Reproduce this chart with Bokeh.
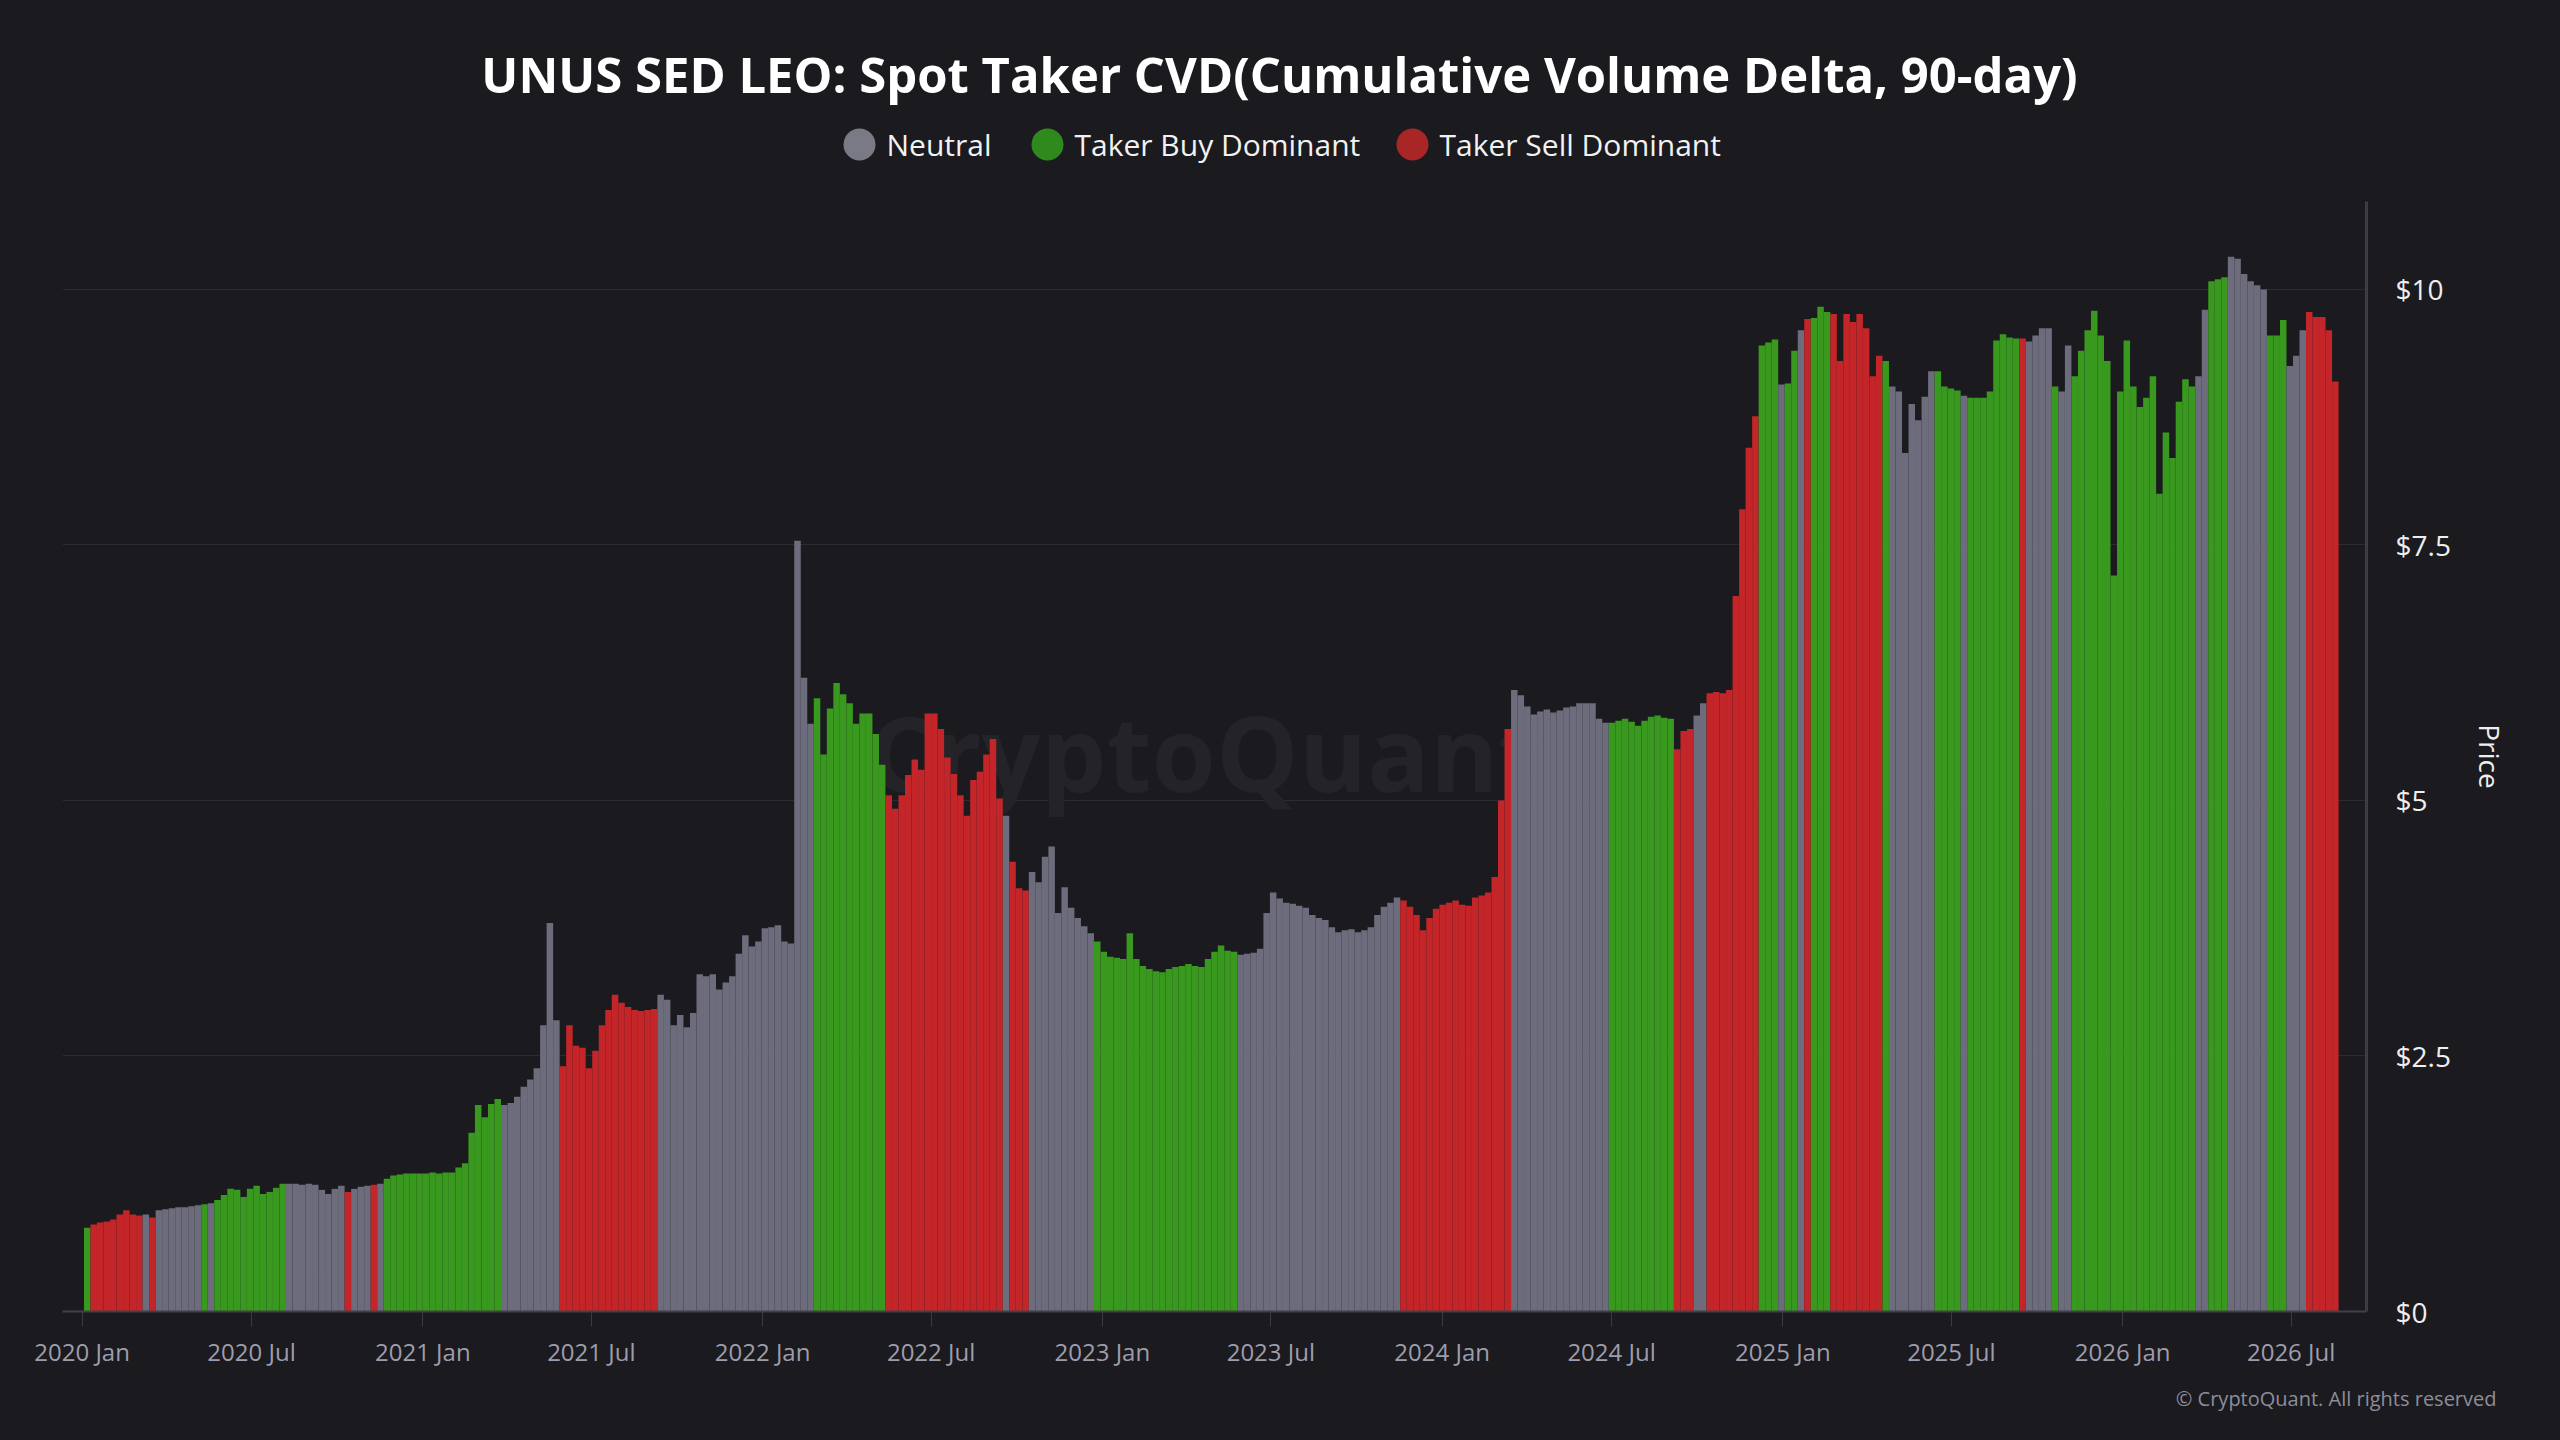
import bisect
import pandas as pd
from bokeh.plotting import figure
from bokeh.layouts import column
from bokeh.models import Range1d, FixedTicker, ColumnDataSource, Title
from bokeh.core.properties import value
from bokeh.embed import file_html
from bokeh.resources import INLINE

# ---------------- data ----------------
TITLE = "UNUS SED LEO: Spot Taker CVD(Cumulative Volume Delta, 90-day)"
COPYRIGHT = "\u00a9 CryptoQuant. All rights reserved"
WATERMARK = "CryptoQuant"

legend_labels = ["Neutral", "Taker Buy Dominant", "Taker Sell Dominant"]
legend_keys = ["N", "B", "S"]

base_date = "2020-01-01"
first_week = "2020-01-03"

# weekly price (USD)
weekly_price = [
    0.82, 0.85, 0.87, 0.88, 0.90, 0.95, 0.99, 0.95, 0.94, 0.95,
    0.92, 0.99, 1.00, 1.01, 1.02, 1.02, 1.03, 1.04, 1.05, 1.06,
    1.09, 1.14, 1.20, 1.19, 1.12, 1.20, 1.23, 1.15, 1.17, 1.21,
    1.25, 1.25, 1.25, 1.24, 1.25, 1.24, 1.19, 1.15, 1.20, 1.23,
    1.17, 1.20, 1.22, 1.23, 1.24, 1.25, 1.30, 1.33, 1.34, 1.35,
    1.35, 1.35, 1.35, 1.36, 1.35, 1.36, 1.36, 1.41, 1.45, 1.75,
    2.02, 1.90, 2.03, 2.08, 2.02, 2.04, 2.10, 2.20, 2.27, 2.38,
    2.80, 3.80, 2.85, 2.40, 2.80, 2.60, 2.58, 2.38, 2.55, 2.80,
    2.95, 3.10, 3.02, 2.98, 2.95, 2.94, 2.95, 2.96, 3.10, 3.05,
    2.80, 2.90, 2.78, 2.92, 3.30, 3.28, 3.30, 3.15, 3.22, 3.28,
    3.50, 3.68, 3.57, 3.62, 3.75, 3.76, 3.78, 3.62, 3.60, 7.54,
    6.20, 5.75, 6.00, 5.45, 5.90, 6.15, 6.04, 5.95, 5.75, 5.85,
    5.85, 5.65, 5.35, 5.05, 4.92, 5.05, 5.25, 5.40, 5.30, 5.85,
    5.85, 5.70, 5.42, 5.26, 5.05, 4.85, 5.20, 5.28, 5.45, 5.60,
    5.02, 4.85, 4.40, 4.14, 4.12, 4.30, 4.20, 4.45, 4.55, 3.90,
    4.15, 3.95, 3.85, 3.77, 3.70, 3.62, 3.52, 3.47, 3.46, 3.45,
    3.70, 3.45, 3.38, 3.35, 3.33, 3.32, 3.35, 3.37, 3.38, 3.40,
    3.38, 3.37, 3.45, 3.52, 3.58, 3.53, 3.52, 3.49, 3.50, 3.51,
    3.55, 3.90, 4.10, 4.04, 4.00, 3.99, 3.97, 3.95, 3.88, 3.85,
    3.83, 3.76, 3.71, 3.73, 3.74, 3.71, 3.73, 3.76, 3.88, 3.96,
    4.00, 4.05, 4.02, 3.96, 3.88, 3.73, 3.85, 3.94, 3.98, 4.00,
    4.02, 3.98, 3.97, 4.05, 4.07, 4.10, 4.25, 5.00, 5.70, 6.08,
    6.03, 5.92, 5.84, 5.87, 5.89, 5.86, 5.88, 5.91, 5.92, 5.95,
    5.95, 5.95, 5.80, 5.76, 5.76, 5.78, 5.80, 5.77, 5.73, 5.78,
    5.82, 5.83, 5.81, 5.80, 5.50, 5.68, 5.70, 5.83, 5.95, 6.05,
    6.06, 6.05, 6.08, 7.00, 7.85, 8.45, 8.76, 9.45, 9.48, 9.51,
    9.07, 9.08, 9.40, 9.60, 9.71, 9.72, 9.83, 9.78, 9.76, 9.30,
    9.76, 9.68, 9.76, 9.62, 9.15, 9.35, 9.30, 9.05, 9.00, 8.40,
    8.88, 8.72, 8.95, 9.20, 9.20, 9.05, 9.03, 9.01, 8.96, 8.94,
    8.94, 8.94, 9.00, 9.50, 9.56, 9.53, 9.52, 9.52, 9.49, 9.55,
    9.62, 9.62, 9.05, 9.00, 9.45, 9.15, 9.40, 9.60, 9.79, 9.55,
    9.30, 7.20, 9.00, 9.50, 9.05, 8.85, 8.94, 9.15, 8.00, 8.60,
    8.35, 8.90, 9.12, 9.05, 9.15, 9.80, 10.08, 10.10, 10.12, 10.32,
    10.30, 10.15, 10.08, 10.04, 10.00, 9.55, 9.55, 9.70, 9.25, 9.35,
    9.60, 9.78, 9.73, 9.73, 9.60, 9.10,
]

# taker regime: first day (counted from base_date) and category
regime_start_day = [
    0, 10, 63, 74, 80, 130, 134, 142, 221, 283, 287, 311, 314, 327, 450,
    511, 617, 786, 861, 991, 996, 1018, 1087, 1242, 1414, 1535, 1637, 1712,
    1730, 1746, 1801, 1821, 1829, 1845, 1852, 1859, 1878, 1936, 1940, 1992,
    2020, 2024, 2083, 2090, 2114, 2123, 2140, 2254, 2258, 2271, 2286, 2304,
    2349, 2369, 2392,
]
regime_category = [
    "B", "S", "N", "S", "N", "B", "N", "B", "N", "S", "N", "S", "N", "B", "N",
    "S", "N", "B", "S", "N", "S", "N", "B", "N", "S", "N", "B", "S",
    "N", "S", "B", "N", "B", "N", "S", "B", "S", "B", "N", "B",
    "N", "B", "S", "N", "B", "N", "B", "N", "B", "N", "B", "N",
    "B", "N", "S",
]

tick_dates = ["2020-01-01", "2020-07-01", "2021-01-01", "2021-07-01", "2022-01-01",
              "2022-07-01", "2023-01-01", "2023-07-01", "2024-01-01", "2024-07-01",
              "2025-01-01", "2025-07-01", "2026-01-01", "2026-07-01"]
tick_labels = ["2020 Jan", "2020 Jul", "2021 Jan", "2021 Jul", "2022 Jan",
               "2022 Jul", "2023 Jan", "2023 Jul", "2024 Jan", "2024 Jul",
               "2025 Jan", "2025 Jul", "2026 Jan", "2026 Jul"]
price_ticks = [0, 2.5, 5, 7.5, 10]
price_tick_labels = ["$0", "$2.5", "$5", "$7.5", "$10"]

# ---------------- styles / layout ----------------
BG = "#1a1a1f"
FONT = "Open Sans"
bar_colors = {"N": "#6d6c7c", "B": "#39991f", "S": "#c32529"}
legend_colors = ["#7a7986", "#2f8a1e", "#a82626"]

W = 2552
TOTAL_H = 1432
HEAD_H = 201            # frame top of the chart
FRAME_L, FRAME_R = 62, 2366
FRAME_H = 1110
MAIN_H = TOTAL_H - HEAD_H

# ---------------- derived ----------------
base = pd.Timestamp(base_date)
week_start = pd.date_range(first_week, periods=len(weekly_price), freq="7D")
centers = week_start + pd.Timedelta(hours=84)
center_day = [(c - base) / pd.Timedelta(days=1) for c in centers]
cats = [regime_category[bisect.bisect_right(regime_start_day, d) - 1] for d in center_day]
src = ColumnDataSource(dict(x=list(centers), top=weekly_price,
                            color=[bar_colors[c] for c in cats]))

# ---------------- header (title + legend) ----------------
head = figure(width=W, height=HEAD_H, x_range=Range1d(FRAME_L, FRAME_R),
              y_range=Range1d(HEAD_H, 0),
              output_backend="svg", toolbar_location=None,
              min_border_left=FRAME_L, min_border_right=W - FRAME_R,
              min_border_top=0, min_border_bottom=0,
              background_fill_color=BG, border_fill_color=BG, outline_line_color=None,
              x_axis_location=None, y_axis_location=None)
head.grid.visible = False
head.text(x=[1279], y=[73], text=[TITLE], text_font=value(FONT), text_font_style="bold",
          text_font_size="49px", text_color="#ffffff", text_align="center",
          text_baseline="middle")
leg_x = [859, 1047, 1412]
head.scatter(x=leg_x, y=[144] * 3, size=32, fill_color=legend_colors, line_color=None)
head.text(x=[v + 27 for v in leg_x], y=[144] * 3, text=legend_labels, text_font=value(FONT),
          text_font_size="30px", text_color="#f2f2f2", text_align="left",
          text_baseline="middle")

# ---------------- main chart ----------------
px_per_day = 0.9309
x_start = base + pd.Timedelta(days=(FRAME_L - 81.6) / px_per_day)
x_end = base + pd.Timedelta(days=(FRAME_R - 81.6) / px_per_day)
p = figure(width=W, height=MAIN_H, x_axis_type="datetime", y_axis_location="right",
           x_range=Range1d(x_start, x_end), y_range=Range1d(0, 10.86),
           output_backend="svg", toolbar_location=None,
           min_border_left=FRAME_L, min_border_right=W - FRAME_R,
           min_border_top=0, min_border_bottom=MAIN_H - FRAME_H,
           background_fill_color=BG, border_fill_color=BG, outline_line_color=None)

p.text(x=[base + pd.Timedelta(days=1207)], y=[5.48], text=[WATERMARK], text_font=value(FONT),
       text_font_style="bold", text_font_size="104px", text_color="#232328",
       text_align="center", text_baseline="middle")

p.vbar(x="x", top="top", bottom=0, width=7 * 86400000, fill_color="color",
       line_color=None, source=src)

p.xgrid.visible = False
p.ygrid.grid_line_color = "#2b2b32"
p.ygrid.grid_line_width = 1

tick_ms = [int(pd.Timestamp(d).value // 10**6) for d in tick_dates]
p.xaxis.ticker = FixedTicker(ticks=tick_ms)
p.xaxis.major_label_overrides = dict(zip(tick_ms, tick_labels))
p.xaxis.axis_line_color = "#404049"
p.xaxis.axis_line_width = 2
p.xaxis.major_tick_line_color = "#3a3a43"
p.xaxis.major_tick_out = 15
p.xaxis.major_tick_in = 0
p.xaxis.minor_tick_line_color = None
p.xaxis.major_label_standoff = 8
p.xaxis.major_label_text_color = "#9e9dab"
p.xaxis.major_label_text_font = FONT
p.xaxis.major_label_text_font_size = "24px"

p.yaxis.ticker = FixedTicker(ticks=price_ticks)
p.yaxis.major_label_overrides = dict(zip(price_ticks, price_tick_labels))
p.yaxis.axis_line_color = "#3c3c46"
p.yaxis.axis_line_width = 3
p.yaxis.major_tick_line_color = None
p.yaxis.minor_tick_line_color = None
p.yaxis.major_tick_out = 0
p.yaxis.major_tick_in = 0
p.yaxis.major_label_standoff = 29
p.yaxis.major_label_text_color = "#eeeeee"
p.yaxis.major_label_text_font = FONT
p.yaxis.major_label_text_font_size = "28px"
p.yaxis.axis_label = "Price"
p.yaxis.axis_label_standoff = 17
p.yaxis.axis_label_text_color = "#eeeeee"
p.yaxis.axis_label_text_font = FONT
p.yaxis.axis_label_text_font_size = "28px"
p.yaxis.axis_label_text_font_style = "normal"

# copyright line, right aligned under the axis labels (shifted past the frame edge)
p.add_layout(Title(text=COPYRIGHT, align="right", offset=-(2496 - FRAME_R),
                   vertical_align="bottom", standoff=24, text_font=FONT,
                   text_font_size="20px", text_font_style="normal",
                   text_color="#8e8d99"), "below")

layout = column(head, p, spacing=0)

html = file_html(layout, INLINE, title="UNUS SED LEO Spot Taker CVD")
html = html.replace("</head>",
                    "<style>html,body{background-color:%s;margin:0;padding:0;}</style></head>" % BG, 1)
open("out.html", "w").write(html)
